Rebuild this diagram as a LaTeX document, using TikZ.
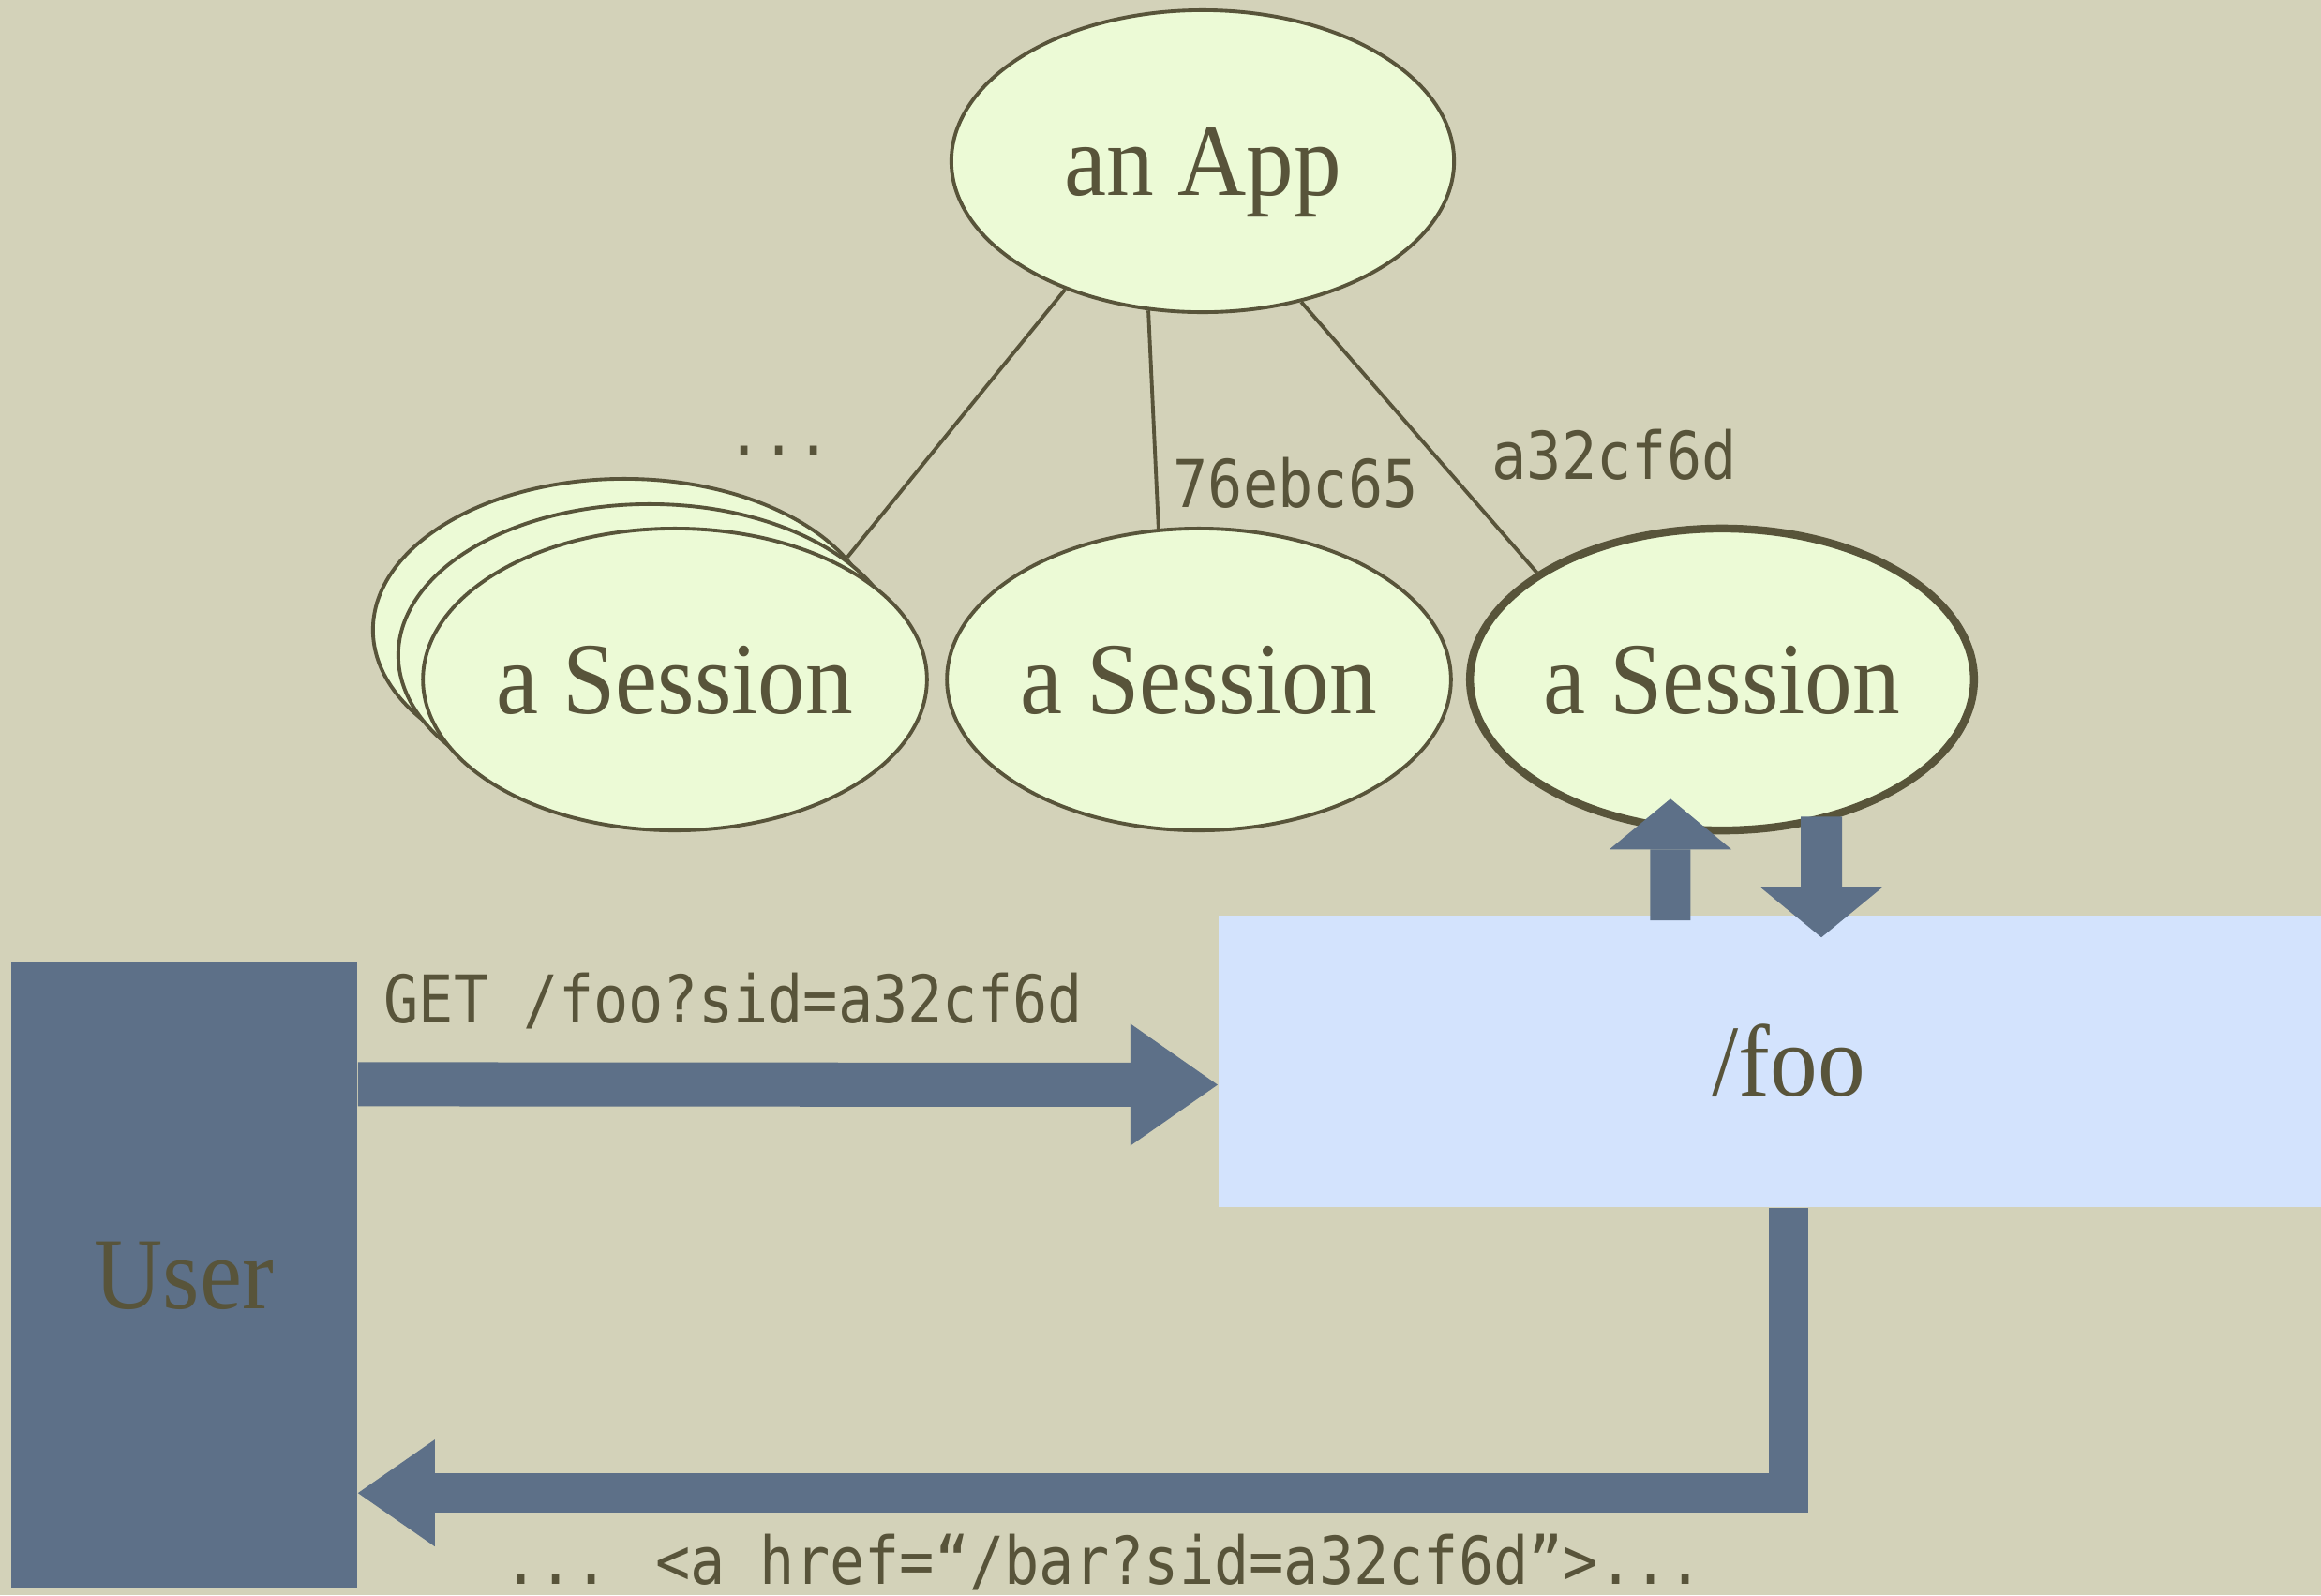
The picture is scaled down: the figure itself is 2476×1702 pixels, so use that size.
\documentclass[tikz,border=0pt]{standalone}
\usepackage{fontspec}
\setmainfont{Liberation Serif}[FakeStretch=0.93]
\newfontfamily\codefont{DejaVu Sans Mono}[FakeStretch=0.88]
\usetikzlibrary{arrows.meta,shapes.geometric}

\definecolor{paper}{HTML}{D3D2B9}
\definecolor{ink}{HTML}{58543A}
\definecolor{leaf}{HTML}{ECFAD6}
\definecolor{slate}{HTML}{5D7088}
\definecolor{sky}{HTML}{D3E3FD}

\begin{document}
\begin{tikzpicture}[x=0.01cm,y=-0.01cm,
  bubble/.style={ellipse,draw=ink,fill=leaf,line width=1.1pt,inner sep=0pt,
    minimum width=5.36cm,minimum height=3.22cm,
    font=\fontsize{31}{31}\selectfont,text=ink,text height=21pt,text depth=0pt},
  panel/.style={rectangle,inner sep=0pt,font=\fontsize{31}{31}\selectfont,
    text=ink,text height=21pt,text depth=0pt},
  link/.style={draw=ink,line width=1.1pt},
  code/.style={font=\codefont\fontsize{20}{20}\selectfont,text=ink,inner sep=0pt},
  pipe/.style={draw=slate,line width=#1,line join=miter},
  bighead/.style n args={2}{-{Triangle[width=#1,length=#2,line width=0pt]}},
]
% canvas
\useasboundingbox (0,0) rectangle (2476,1702);
\clip (0,0) rectangle (2476,1702);
\fill[paper] (0,0) rectangle (2476,1702);

% application and its sessions
\node[bubble] (app) at (1283,172) {an App};
\node[bubble] (s1a) at (666,672) {};
\node[bubble] (s1b) at (693,699) {};
\node[bubble] (s1) at (720,725) {a Session};
\node[bubble] (s2) at (1279,725) {a Session};
\node[bubble,line width=2.4pt] (s3) at (1837,725) {a Session};

\draw[link] (app.223.6) -- (s1a.18);
\draw[link] (app.250) -- (s2.105);
\draw[link] (app.305) -- (s3.150.6);

\node[code,anchor=base] (more) at (831,486) {...};
\node[code,anchor=base west] (id2) at (1251,541) {76ebc65};
\node[code,anchor=base west] (id3) at (1591,511) {a32cf6d};

% user and handler
\node[panel,fill=slate,minimum width=3.69cm,minimum height=6.68cm] (user) at (196.5,1360) {User};
\node[panel,fill=sky,minimum width=12.16cm,minimum height=3.11cm] (foo) at (1908,1132.5) {/foo};

% request and response
\draw[pipe=0.47cm,bighead={1.3cm}{0.93cm}] ([yshift=2.03cm]user.east) -- ([yshift=-0.25cm]foo.west);
\node[code,anchor=base west] (req) at (409,1091) {GET /foo?sid=a32cf6d};

\draw[pipe=0.42cm,bighead={1.14cm}{0.82cm}] (foo.south) |- ([yshift=-2.33cm]user.east);
\node[code,anchor=base west,text depth=0pt] (resp) at (537,1690) {... <a href=“/bar?sid=a32cf6d”>...};

% session lookup and update
\draw[pipe=0.43cm,bighead={1.3cm}{0.54cm}] ([xshift=-1.26cm,yshift=-0.06cm]foo.north) -- ([xshift=-0.55cm,yshift=0.38cm]s3.south);
\draw[pipe=0.44cm,bighead={1.29cm}{0.53cm}] ([xshift=1.06cm,yshift=0.19cm]s3.south) -- ([xshift=0.35cm,yshift=-0.24cm]foo.north);
\end{tikzpicture}
\end{document}
